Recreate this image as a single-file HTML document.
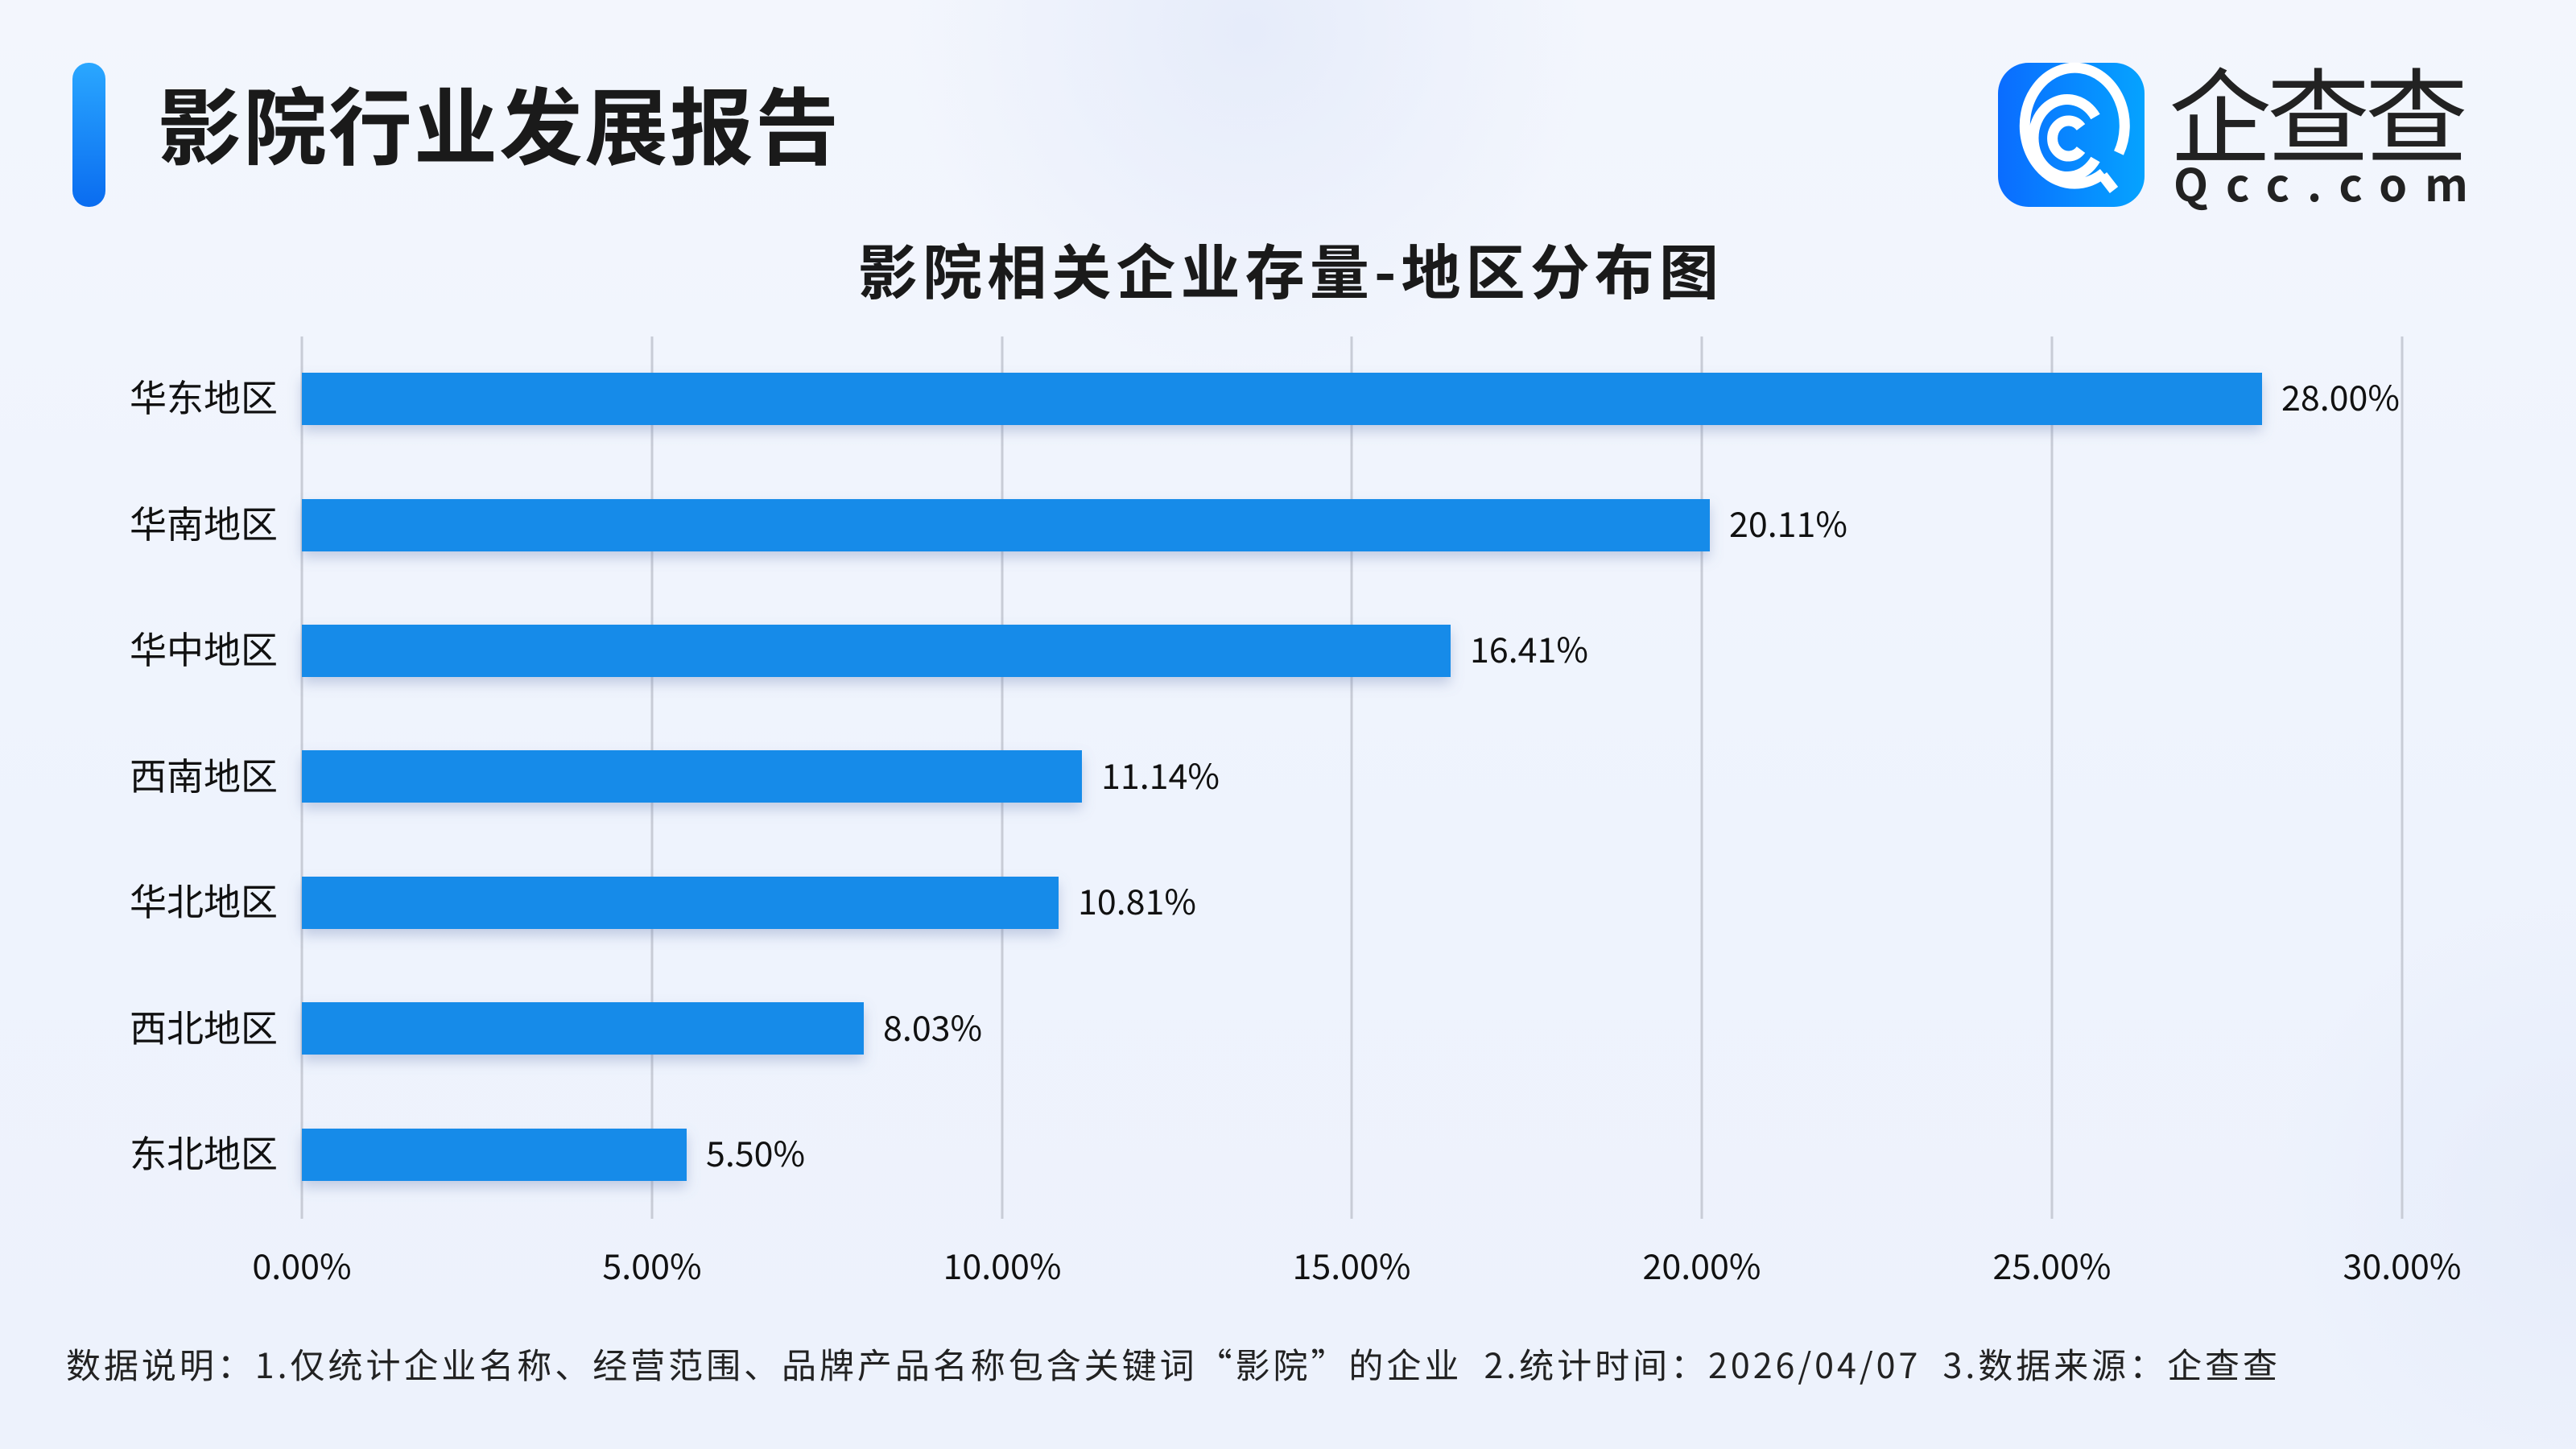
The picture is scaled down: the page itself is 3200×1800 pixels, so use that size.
<!DOCTYPE html>
<html><head><meta charset="utf-8"><style>
html,body{margin:0;padding:0;}
body{width:3200px;height:1800px;overflow:hidden;background:linear-gradient(180deg,#f3f6fd 0%,#eef3fd 60%,#edf2fc 100%);position:relative;}
svg text{font-family:"Noto Sans CJK SC","Liberation Sans",sans-serif;}
</style></head><body>
<svg width="3200" height="1800" viewBox="0 0 3200 1800" xmlns="http://www.w3.org/2000/svg" style="position:absolute;left:0;top:0">
<defs>
<radialGradient id="c1" cx="0.5" cy="0.5" r="0.5"><stop offset="0" stop-color="#e6ecfa"/><stop offset="1" stop-color="#e6ecfa" stop-opacity="0"/></radialGradient>
<linearGradient id="pill" x1="0" y1="0" x2="0" y2="1"><stop offset="0" stop-color="#2aa7ff"/><stop offset="1" stop-color="#0a6cf0"/></linearGradient>
<linearGradient id="logo" x1="0" y1="0" x2="1" y2="0"><stop offset="0" stop-color="#0a6cff"/><stop offset="1" stop-color="#05a3ff"/></linearGradient>
<filter id="sh" x="-5%" y="-50%" width="110%" height="200%"><feDropShadow dx="0" dy="8" stdDeviation="8" flood-color="#6a7fb0" flood-opacity="0.35"/></filter>
</defs>
<circle cx="1550" cy="40" r="420" fill="url(#c1)"/>
<circle cx="3200" cy="1500" r="380" fill="url(#c1)"/>
<rect x="90" y="78" width="41" height="179" rx="20" fill="url(#pill)"/>
<text x="196" y="196" font-size="104" font-weight="bold" fill="#1a1a1a" textLength="846">影院行业发展报告</text>
<rect x="2482" y="78" width="182" height="179" rx="38" fill="url(#logo)"/>
<g fill="none" stroke="#fff" stroke-width="13" stroke-linecap="butt">
<path d="M2613 215 A62 72 0 1 1 2632 190"/>
<path d="M2603 145 A42 48 0 1 0 2603 198"/>
<path d="M2585 158 A20 22 0 1 0 2585 186"/>
<path d="M2612 218 L2626 236"/>
</g>
<text x="2694" y="192" font-size="128" fill="#222" textLength="372">企查查</text>
<text x="2700" y="250" font-size="56" font-weight="bold" fill="#222" textLength="366">Qcc.com</text>
<text x="1066" y="365" font-size="74" font-weight="bold" fill="#1a1a1a" textLength="1069">影院相关企业存量-地区分布图</text>
<g stroke="#c8ccd6" stroke-width="3">
<line x1="375" y1="418" x2="375" y2="1514"/><line x1="810" y1="418" x2="810" y2="1514"/><line x1="1245" y1="418" x2="1245" y2="1514"/><line x1="1679" y1="418" x2="1679" y2="1514"/><line x1="2114" y1="418" x2="2114" y2="1514"/><line x1="2549" y1="418" x2="2549" y2="1514"/><line x1="2984" y1="418" x2="2984" y2="1514"/>
</g>
<g fill="#168be9" filter="url(#sh)">
<rect x="375" y="463" width="2435" height="65"/>
<rect x="375" y="620" width="1749" height="65"/>
<rect x="375" y="776" width="1427" height="65"/>
<rect x="375" y="932" width="969" height="65"/>
<rect x="375" y="1089" width="940" height="65"/>
<rect x="375" y="1245" width="698" height="65"/>
<rect x="375" y="1402" width="478" height="65"/>
</g>
<g font-size="46" fill="#111" text-anchor="end">
<text x="345" y="511">华东地区</text><text x="345" y="668">华南地区</text><text x="345" y="824">华中地区</text><text x="345" y="981">西南地区</text><text x="345" y="1137">华北地区</text><text x="345" y="1294">西北地区</text><text x="345" y="1450">东北地区</text>
</g>
<g font-size="43" fill="#111">
<text x="2834" y="510">28.00%</text><text x="2148" y="667">20.11%</text><text x="1826" y="823">16.41%</text><text x="1368" y="980">11.14%</text><text x="1339" y="1136">10.81%</text><text x="1097" y="1293">8.03%</text><text x="877" y="1449">5.50%</text>
</g>
<g font-size="43" fill="#111" text-anchor="middle">
<text x="375" y="1589">0.00%</text><text x="810" y="1589">5.00%</text><text x="1245" y="1589">10.00%</text><text x="1679" y="1589">15.00%</text><text x="2114" y="1589">20.00%</text><text x="2549" y="1589">25.00%</text><text x="2984" y="1589">30.00%</text>
</g>
<text x="82" y="1712" font-size="43" fill="#222" textLength="2747" xml:space="preserve">数据说明：1.仅统计企业名称、经营范围、品牌产品名称包含关键词“影院”的企业  2.统计时间：2026/04/07  3.数据来源：企查查</text>
</svg>
</body></html>
